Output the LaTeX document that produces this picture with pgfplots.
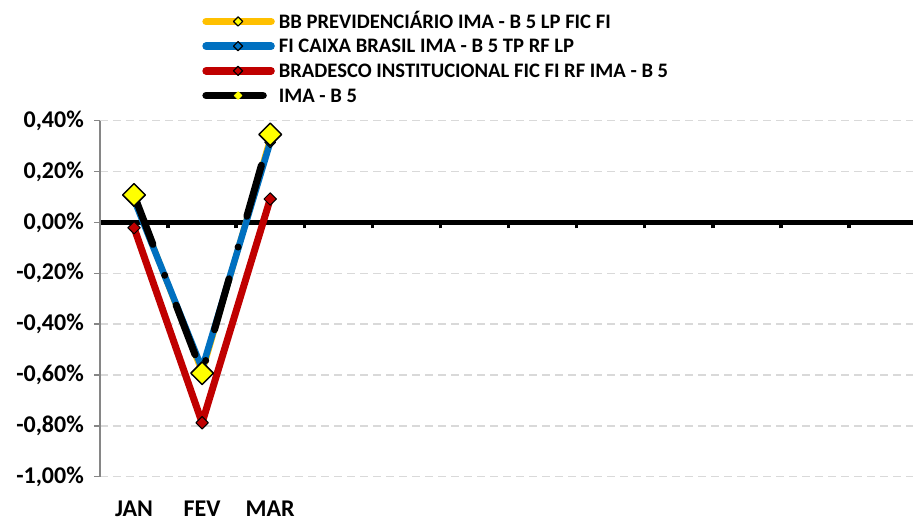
\documentclass[border=0pt]{standalone}
\usepackage{fontspec}
\setmainfont{Carlito}
\usepackage{pgfplots}
\pgfplotsset{compat=1.18}
\definecolor{cYel}{HTML}{FFC000}
\definecolor{cBlue}{HTML}{0070C0}
\definecolor{cRed}{HTML}{C00000}
\definecolor{mYel}{HTML}{FFFF00}
\definecolor{axgray}{HTML}{868686}
\definecolor{gridgray}{HTML}{D9D9D9}
\begin{document}
\begin{tikzpicture}
\begin{axis}[
  at={(100pt,44.3pt)}, anchor=south west,
  scale only axis, width=817pt, height=356pt,
  xmin=0, xmax=12, ymin=-1, ymax=0.4,
  clip=false,
  axis y line*=left, axis x line*=middle,
  y axis line style={draw=axgray, line width=1.5pt, -},
  x axis line style={draw=black, line width=4.5pt, -},
  ytick={-1,-0.8,-0.6,-0.4,-0.2,0,0.2,0.4},
  yticklabels={{-1,00\%},{-0,80\%},{-0,60\%},{-0,40\%},{-0,20\%},{0,00\%},{0,20\%},{0,40\%}},
  yticklabel style={font=\fontsize{24}{27}\selectfont\bfseries, anchor=east, inner sep=0pt, xshift=-10pt},
  ymajorgrids,
  y grid style={draw=gridgray, line width=1.5pt, dash pattern=on 8pt off 5pt},
  xtick={0,...,11}, xticklabels={},
  tick align=outside,
  major tick length=6pt,
  ytick style={draw=axgray, line width=1.5pt},
  xtick style={draw=black, line width=3.5pt},
  legend cell align=left,
  legend style={at={(rel axis cs:0.125,1.314)}, anchor=north west, draw=none, fill=none,
    font=\fontsize{20.6}{23}\selectfont\bfseries, row sep=0pt, inner sep=0pt,
    nodes={text height=13.5pt, text depth=0pt, inner ysep=5.6pt, inner xsep=4pt}},
]
\addplot[draw=cYel, line width=6pt, line join=round, line cap=round,
  mark=square*, mark size=3.8pt, mark options={rotate=45, fill=cYel, draw=black, line width=1pt},
  legend image code/.code={
    \draw[cYel, solid, line width=7.5pt, line cap=round] (0pt,0pt) -- (65pt,0pt);
    \filldraw[solid, fill=mYel, draw=black, line width=1.2pt] (32pt,4.6pt) -- (36.6pt,0pt) -- (32pt,-4.6pt) -- (27.4pt,0pt) -- cycle;}]
  coordinates {(0.5,0.10) (1.5,-0.59) (2.5,0.33)};
\addlegendentry{BB PREVIDENCIÁRIO IMA - B 5 LP FIC FI}
\addplot[draw=cBlue, line width=6.5pt, line join=round, line cap=round,
  mark=square*, mark size=3.8pt, mark options={rotate=45, fill=cBlue, draw=black, line width=1pt},
  legend image code/.code={
    \draw[cBlue, solid, line width=7.5pt, line cap=round] (0pt,0pt) -- (65pt,0pt);
    \filldraw[solid, fill=cBlue, draw=black, line width=1.2pt] (32pt,4.6pt) -- (36.6pt,0pt) -- (32pt,-4.6pt) -- (27.4pt,0pt) -- cycle;}]
  coordinates {(0.5,0.09) (1.5,-0.575) (2.5,0.315)};
\addlegendentry{FI CAIXA BRASIL IMA - B 5 TP RF LP}
\addplot[draw=cRed, line width=7pt, line join=round, line cap=round,
  mark=square*, mark size=4.4pt, mark options={rotate=45, fill=cRed, draw=black, line width=1pt},
  legend image code/.code={
    \draw[cRed, solid, line width=7.5pt, line cap=round] (0pt,0pt) -- (65pt,0pt);
    \filldraw[solid, fill=cRed, draw=black, line width=1.2pt] (32pt,4.6pt) -- (36.6pt,0pt) -- (32pt,-4.6pt) -- (27.4pt,0pt) -- cycle;}]
  coordinates {(0.5,-0.021) (1.5,-0.788) (2.5,0.092)};
\addlegendentry{BRADESCO INSTITUCIONAL FIC FI RF IMA - B 5}
\addplot[draw=black, line width=7pt, line join=round, line cap=round,
  dash pattern=on 53pt off 33pt on 0pt off 32pt,
  mark=square*, mark size=8pt, mark options={solid, rotate=45, fill=mYel, draw=black, line width=1.5pt},
  legend image code/.code={
    \draw[black, solid, line width=7.5pt, line cap=round] (0pt,0pt) -- (57pt,0pt);
    \filldraw[solid, fill=mYel, draw=mYel, line width=0.4pt] (32pt,4pt) -- (36pt,0pt) -- (32pt,-4pt) -- (28pt,0pt) -- cycle;}]
  coordinates {(0.5,0.108) (1.5,-0.593) (2.5,0.346)};
\addlegendentry{IMA - B 5}
\node[font=\fontsize{24}{27}\selectfont\bfseries, anchor=base] at (axis cs:0.5,-1) [yshift=-39.5pt] {JAN};
\node[font=\fontsize{24}{27}\selectfont\bfseries, anchor=base] at (axis cs:1.5,-1) [yshift=-39.5pt] {FEV};
\node[font=\fontsize{24}{27}\selectfont\bfseries, anchor=base] at (axis cs:2.5,-1) [yshift=-39.5pt] {MAR};
\end{axis}
\pgfresetboundingbox
\useasboundingbox (0pt,0pt) rectangle (913pt,521pt);
\end{tikzpicture}
\end{document}
